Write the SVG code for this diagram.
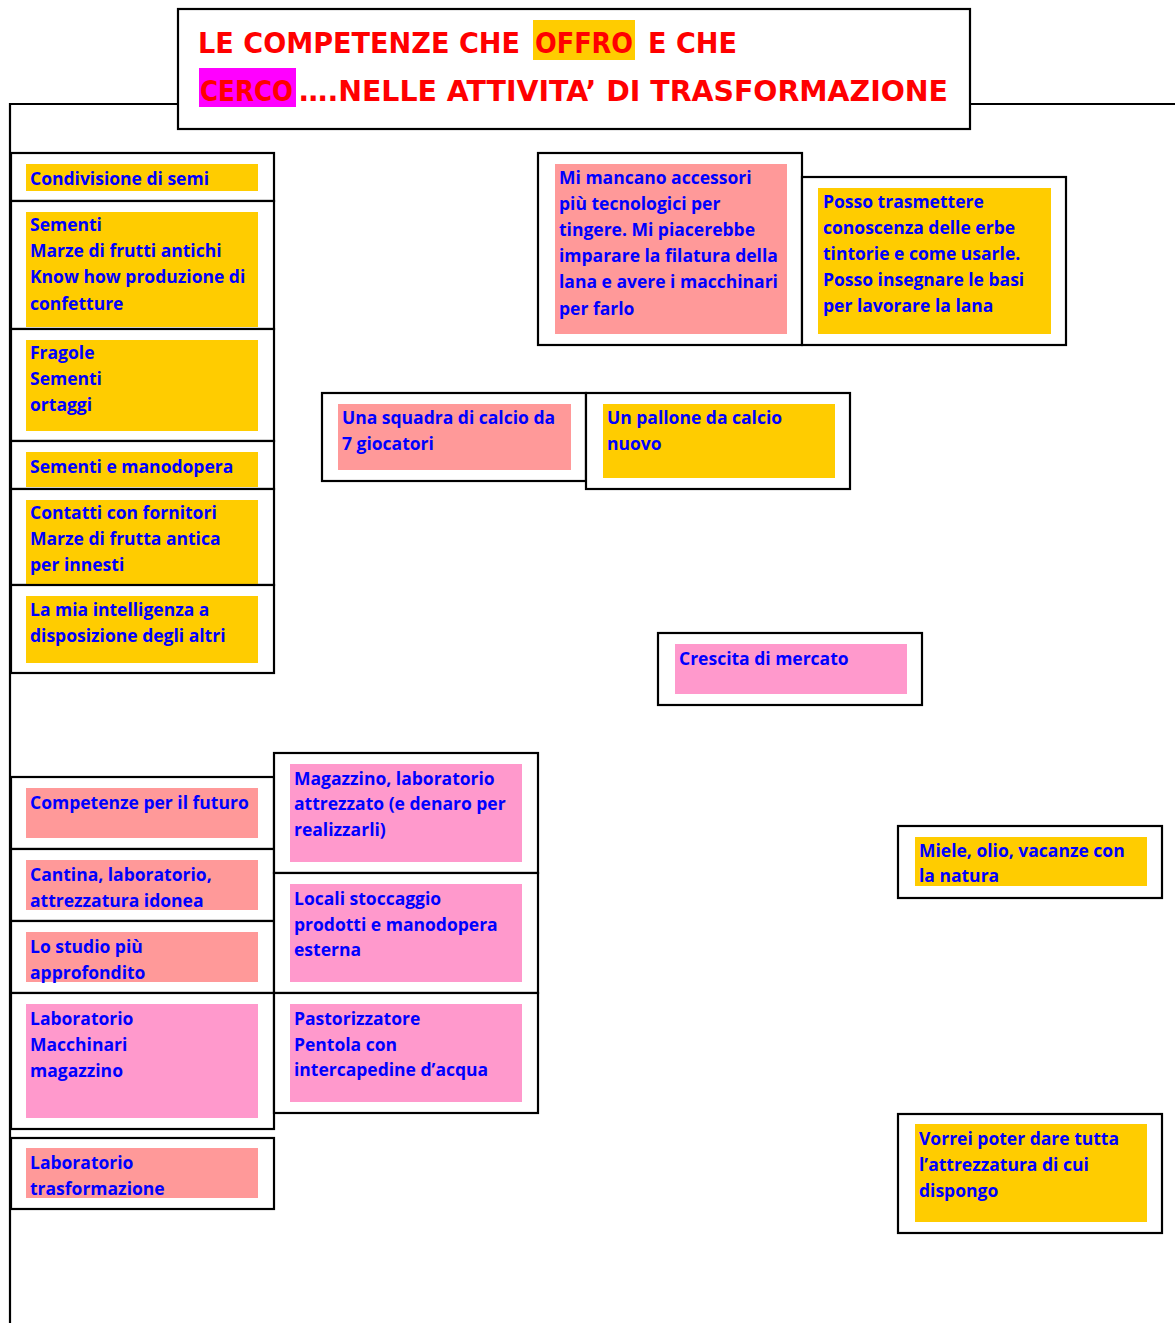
<svg xmlns="http://www.w3.org/2000/svg" width="1175" height="1323" viewBox="0 0 1175 1323">
<style>
.frame{fill:#ffffff;stroke:#000000;stroke-width:2.2}
.y{fill:#ffcc00}
.s{fill:#ff9999}
.p{fill:#ff99cc}
.t{font-family:"Open Sans","Noto Sans","Liberation Sans",sans-serif;font-weight:bold;font-size:17.5px;fill:#0000ff}
.h{font-family:"DejaVu Sans","Liberation Sans",sans-serif;font-weight:bold;font-size:29px;fill:#ff0000}
.conn{fill:none;stroke:#000000;stroke-width:2.2}
</style>
<rect width="1175" height="1323" fill="#ffffff"/>
<g id="connectors">
<path class="conn" d="M10 1323 V104 H178"/>
<path class="conn" d="M970 104 H1175"/>
</g>
<g id="title">
<rect class="frame" x="178" y="9" width="792" height="120"/>
<rect fill="#ffcc00" x="533" y="20" width="102" height="40"/>
<rect fill="#ff00ff" x="199" y="68" width="97" height="39"/>
<text class="h" x="198" y="53" textLength="322" lengthAdjust="spacingAndGlyphs">LE COMPETENZE CHE</text>
<text class="h" x="535" y="53" textLength="98" lengthAdjust="spacingAndGlyphs">OFFRO</text>
<text class="h" x="648" y="53" textLength="89" lengthAdjust="spacingAndGlyphs">E CHE</text>
<text class="h" x="200" y="101" textLength="93" lengthAdjust="spacingAndGlyphs">CERCO</text>
<text class="h" x="299" y="101" textLength="649" lengthAdjust="spacingAndGlyphs">….NELLE ATTIVITA’ DI TRASFORMAZIONE</text>
</g>
<g id="n1"><rect class="frame" x="11" y="153" width="263" height="48"/><rect class="y" x="26" y="164" width="232" height="27"/>
<text class="t" x="30" y="185">Condivisione di semi</text></g>
<g id="n2"><rect class="frame" x="11" y="201" width="263" height="128"/><rect class="y" x="26" y="212" width="232" height="115"/>
<text class="t" x="30" y="231">Sementi</text><text class="t" x="30" y="257">Marze di frutti antichi</text><text class="t" x="30" y="283">Know how produzione di</text><text class="t" x="30" y="310">confetture</text></g>
<g id="n3"><rect class="frame" x="11" y="329" width="263" height="112"/><rect class="y" x="26" y="340" width="232" height="91"/>
<text class="t" x="30" y="359">Fragole</text><text class="t" x="30" y="385">Sementi</text><text class="t" x="30" y="411">ortaggi</text></g>
<g id="n4"><rect class="frame" x="11" y="441" width="263" height="48"/><rect class="y" x="26" y="452" width="232" height="35"/>
<text class="t" x="30" y="473">Sementi e manodopera</text></g>
<g id="n5"><rect class="frame" x="11" y="489" width="263" height="96"/><rect class="y" x="26" y="500" width="232" height="84"/>
<text class="t" x="30" y="519">Contatti con fornitori</text><text class="t" x="30" y="545">Marze di frutta antica</text><text class="t" x="30" y="571">per innesti</text></g>
<g id="n6"><rect class="frame" x="11" y="585" width="263" height="88"/><rect class="y" x="26" y="596" width="232" height="67"/>
<text class="t" x="30" y="616">La mia intelligenza a</text><text class="t" x="30" y="642">disposizione degli altri</text></g>
<g id="n7"><rect class="frame" x="538" y="153" width="264" height="192"/><rect class="s" x="555" y="164" width="232" height="170"/>
<text class="t" x="559" y="184">Mi mancano accessori</text><text class="t" x="559" y="210">più tecnologici per</text><text class="t" x="559" y="236">tingere. Mi piacerebbe</text><text class="t" x="559" y="262">imparare la filatura della</text><text class="t" x="559" y="288">lana e avere i macchinari</text><text class="t" x="559" y="315">per farlo</text></g>
<g id="n8"><rect class="frame" x="802" y="177" width="264" height="168"/><rect class="y" x="818" y="188" width="233" height="146"/>
<text class="t" x="823" y="208">Posso trasmettere</text><text class="t" x="823" y="234">conoscenza delle erbe</text><text class="t" x="823" y="260">tintorie e come usarle.</text><text class="t" x="823" y="286">Posso insegnare le basi</text><text class="t" x="823" y="312">per lavorare la lana</text></g>
<g id="n9"><rect class="frame" x="322" y="393" width="264" height="88"/><rect class="s" x="338" y="404" width="233" height="66"/>
<text class="t" x="342" y="424">Una squadra di calcio da</text><text class="t" x="342" y="450">7 giocatori</text></g>
<g id="n10"><rect class="frame" x="586" y="393" width="264" height="96"/><rect class="y" x="603" y="404" width="232" height="74"/>
<text class="t" x="607" y="424">Un pallone da calcio</text><text class="t" x="607" y="450">nuovo</text></g>
<g id="n11"><rect class="frame" x="658" y="633" width="264" height="72"/><rect class="p" x="675" y="644" width="232" height="50"/>
<text class="t" x="679" y="665">Crescita di mercato</text></g>
<g id="n12"><rect class="frame" x="11" y="777" width="263" height="72"/><rect class="s" x="26" y="788" width="232" height="50"/>
<text class="t" x="30" y="809">Competenze per il futuro</text></g>
<g id="n13"><rect class="frame" x="11" y="849" width="263" height="72"/><rect class="s" x="26" y="860" width="232" height="50"/>
<text class="t" x="30" y="881">Cantina, laboratorio,</text><text class="t" x="30" y="907">attrezzatura idonea</text></g>
<g id="n14"><rect class="frame" x="11" y="921" width="263" height="72"/><rect class="s" x="26" y="932" width="232" height="50"/>
<text class="t" x="30" y="953">Lo studio più</text><text class="t" x="30" y="979">approfondito</text></g>
<g id="n15"><rect class="frame" x="11" y="993" width="263" height="136"/><rect class="p" x="26" y="1004" width="232" height="114"/>
<text class="t" x="30" y="1025">Laboratorio</text><text class="t" x="30" y="1051">Macchinari</text><text class="t" x="30" y="1077">magazzino</text></g>
<g id="n16"><rect class="frame" x="11" y="1138" width="263" height="71"/><rect class="s" x="26" y="1148" width="232" height="50"/>
<text class="t" x="30" y="1169">Laboratorio</text><text class="t" x="30" y="1195">trasformazione</text></g>
<g id="n17"><rect class="frame" x="274" y="753" width="264" height="120"/><rect class="p" x="290" y="764" width="232" height="98"/>
<text class="t" x="294" y="785">Magazzino, laboratorio</text><text class="t" x="294" y="810">attrezzato (e denaro per</text><text class="t" x="294" y="836">realizzarli)</text></g>
<g id="n18"><rect class="frame" x="274" y="873" width="264" height="120"/><rect class="p" x="290" y="884" width="232" height="98"/>
<text class="t" x="294" y="905">Locali stoccaggio</text><text class="t" x="294" y="931">prodotti e manodopera</text><text class="t" x="294" y="956">esterna</text></g>
<g id="n19"><rect class="frame" x="274" y="993" width="264" height="120"/><rect class="p" x="290" y="1004" width="232" height="98"/>
<text class="t" x="294" y="1025">Pastorizzatore</text><text class="t" x="294" y="1051">Pentola con</text><text class="t" x="294" y="1076">intercapedine d’acqua</text></g>
<g id="n20"><rect class="frame" x="898" y="826" width="264" height="72"/><rect class="y" x="915" y="837" width="232" height="49"/>
<text class="t" x="919" y="857">Miele, olio, vacanze con</text><text class="t" x="919" y="882">la natura</text></g>
<g id="n21"><rect class="frame" x="898" y="1114" width="264" height="119"/><rect class="y" x="915" y="1124" width="232" height="98"/>
<text class="t" x="919" y="1145">Vorrei poter dare tutta</text><text class="t" x="919" y="1171">l’attrezzatura di cui</text><text class="t" x="919" y="1197">dispongo</text></g>
</svg>
